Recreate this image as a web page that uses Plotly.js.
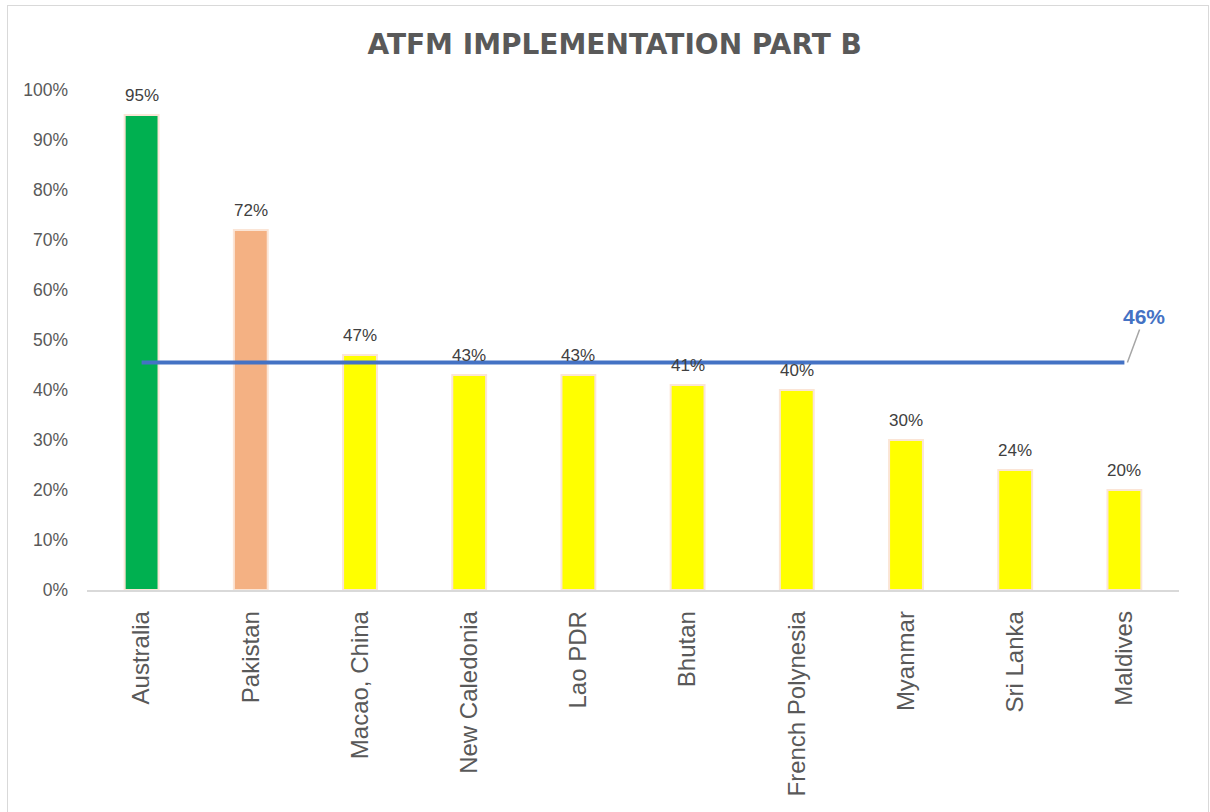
<!DOCTYPE html>
<html>
<head>
<meta charset="utf-8">
<script src="https://cdn.plot.ly/plotly-3.0.1.min.js"></script>
<style>
html,body{margin:0;padding:0;background:#fff;}
#chart{width:1210px;height:812px;position:absolute;left:0;top:0;}
#frame{position:absolute;left:7px;top:5px;width:1200px;height:820px;border:1px solid #d9d9d9;pointer-events:none;}
</style>
</head>
<body>
<div id="chart"></div>
<div id="frame"></div>
<script>
const categories = ["Australia","Pakistan","Macao, China","New Caledonia","Lao PDR","Bhutan","French Polynesia","Myanmar","Sri Lanka","Maldives"];
const values = [0.95,0.72,0.47,0.43,0.43,0.41,0.40,0.30,0.24,0.20];
const barColors = ["#00B050","#F4B183","#FFFF00","#FFFF00","#FFFF00","#FFFF00","#FFFF00","#FFFF00","#FFFF00","#FFFF00"];
const averageValue = [0.455];
const averageLabel = ["46%"];

const bars = {
  type: "bar",
  x: categories,
  y: values,
  width: 0.31,
  marker: {color: barColors, line: {color: "#FBE5D6", width: 2}},
  hoverinfo: "x+y",
  showlegend: false
};
const avgLine = {
  type: "scatter",
  mode: "lines",
  x: [categories[0], categories[categories.length-1]],
  y: [averageValue[0], averageValue[0]],
  line: {color: "#4472C4", width: 4},
  showlegend: false,
  hoverinfo: "y"
};

const valueAnnotations = categories.map((c,i)=>({
  x: c, y: values[i], xref: "x", yref: "y",
  text: Math.round(values[i]*100) + "%",
  showarrow: false, yanchor: "bottom", yshift: 8,
  font: {family: "Liberation Sans, Arial, sans-serif", size: 17, color: "#404040"}
}));

valueAnnotations.push({
  x: categories[categories.length-1], y: averageValue[0], xref: "x", yref: "y",
  text: "<b>" + averageLabel[0] + "</b>",
  showarrow: true, arrowhead: 0, arrowwidth: 1.5, arrowcolor: "#A6A6A6",
  ax: 17, ay: -46, xshift: 3, standoff: 0,
  font: {family: "Liberation Sans, Arial, sans-serif", size: 21, color: "#4472C4"}
});

const layout = {
  width: 1210, height: 812,
  margin: {l: 87, r: 31, t: 90, b: 222},
  paper_bgcolor: "#ffffff", plot_bgcolor: "#ffffff",
  title: {
    text: "<b>ATFM IMPLEMENTATION PART B</b>",
    x: 0.508, xanchor: "center", y: 0.945, yanchor: "middle",
    font: {family: "DejaVu Sans, sans-serif", size: 28, color: "#595959"}
  },
  xaxis: {
    type: "category",
    tickangle: -90,
    tickfont: {family: "Liberation Sans, Arial, sans-serif", size: 24, color: "#595959"},
    showgrid: false, zeroline: false,
    showline: true, linecolor: "#D9D9D9", linewidth: 1.5,
    ticks: "", ticklabelstandoff: 10
  },
  yaxis: {
    range: [0, 1],
    tickvals: [0,0.1,0.2,0.3,0.4,0.5,0.6,0.7,0.8,0.9,1.0],
    tickformat: ".0%",
    tickfont: {family: "Liberation Sans, Arial, sans-serif", size: 17.5, color: "#595959"},
    showgrid: false, zeroline: false, showline: false,
    ticks: "", ticklabelstandoff: 18
  },
  annotations: valueAnnotations,
  bargap: 0.69
};

Plotly.newPlot("chart", [bars, avgLine], layout, {displayModeBar: false, staticPlot: true});
</script>
</body>
</html>
